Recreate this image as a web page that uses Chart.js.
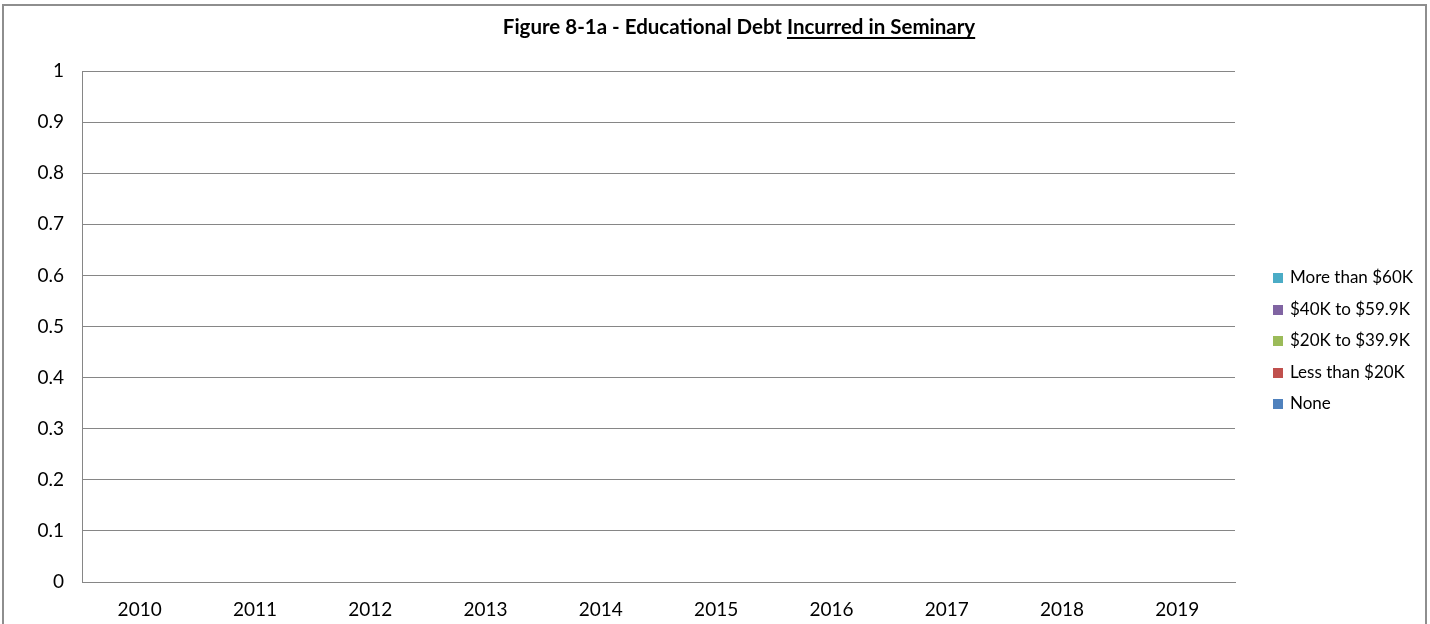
<!DOCTYPE html>
<html>
<head>
<meta charset="utf-8">
<script src="https://cdn.jsdelivr.net/npm/chart.js@4"></script>
<style>
  body { margin: 0; background: #fff; overflow: hidden; }
  #wrap { position: relative; width: 1430px; height: 624px; font-family: Lato, "Liberation Sans", sans-serif; color: #000; }
  #frame { position: absolute; left: 2px; top: 4px; width: 1421px; height: 660px; border: 2px solid #8e8e8e; }
  #title { position: absolute; top: 14px; left: 0; width: 1478px; text-align: center; font-weight: bold; font-size: 20.5px; }
  #title u { text-underline-offset: 3px; }
  canvas { position: absolute; left: 0; top: 0; }
  #legend { position: absolute; left: 1273px; top: 266px; font-size: 17px; }
  #legend div { height: 31.6px; line-height: 22px; white-space: nowrap; }
  #legend span { display: inline-block; width: 10px; height: 10px; margin-right: 7px; }
</style>
</head>
<body>
<div id="wrap">
  <div id="frame"></div>
  <canvas id="chart" width="1430" height="624"></canvas>
  <div id="title">Figure 8-1a - Educational Debt <u>Incurred in Seminary</u></div>
  <div id="legend"></div>
</div>
<script>
// Années
const years = ['2010', '2011', '2012', '2013', '2014', '2015', '2016', '2017', '2018', '2019'];
// Séries (vides dans la figure d'origine)
const seriesNames = ['None', 'Less than $20K', '$20K to $39.9K', '$40K to $59.9K', 'More than $60K'];
const noneDebt   = [null, null, null, null, null, null, null, null, null, null];
const under20K   = [null, null, null, null, null, null, null, null, null, null];
const from20K    = [null, null, null, null, null, null, null, null, null, null];
const from40K    = [null, null, null, null, null, null, null, null, null, null];
const over60K    = [null, null, null, null, null, null, null, null, null, null];
const seriesColors = ['#4F81BD', '#C0504D', '#9BBB59', '#8064A2', '#4BACC6'];
// Graduations de l'axe Y
const yTicks = [0, 0.1, 0.2, 0.3, 0.4, 0.5, 0.6, 0.7, 0.8, 0.9, 1];

const values = [noneDebt, under20K, from20K, from40K, over60K];
const datasets = [];
for (let i = 0; i < seriesNames.length; i++) {
  datasets.push({
    label: seriesNames[i],
    data: values[i],
    backgroundColor: seriesColors[i],
    borderWidth: 0
  });
}

const font = { family: 'Lato, "Liberation Sans", sans-serif', size: 19 };

const myChart = new Chart(document.getElementById('chart').getContext('2d'), {
  type: 'bar',
  data: { labels: years, datasets: datasets },
  options: {
    responsive: false,
    animation: false,
    devicePixelRatio: 1,
    layout: { padding: { top: 71, right: 195, bottom: 0, left: 0 } },
    plugins: {
      legend: { display: false },
      title: { display: false },
      tooltip: { enabled: false }
    },
    scales: {
      x: {
        stacked: true,
        grid: { display: false, drawTicks: false },
        border: { display: true, color: '#868686', width: 1 },
        ticks: { color: '#000', font: font, padding: 16, maxRotation: 0 },
        afterFit: function (scale) { scale.height = 42; }
      },
      y: {
        stacked: true,
        min: 0,
        max: 1,
        afterBuildTicks: function (scale) {
          scale.ticks = yTicks.map(function (v) { return { value: v }; });
        },
        grid: { color: '#868686', drawTicks: false },
        border: { display: true, color: '#868686', width: 1 },
        ticks: {
          color: '#000', font: font, padding: 18,
          callback: function (v) { return String(Math.round(v * 10) / 10); }
        },
        afterFit: function (scale) { scale.width = 82; }
      }
    }
  }
});

// Légende (ordre inversé comme dans Excel)
const legend = document.getElementById('legend');
for (let i = datasets.length - 1; i >= 0; i--) {
  const row = document.createElement('div');
  const box = document.createElement('span');
  box.style.background = datasets[i].backgroundColor;
  row.appendChild(box);
  row.appendChild(document.createTextNode(datasets[i].label));
  legend.appendChild(row);
}
</script>
</body>
</html>
